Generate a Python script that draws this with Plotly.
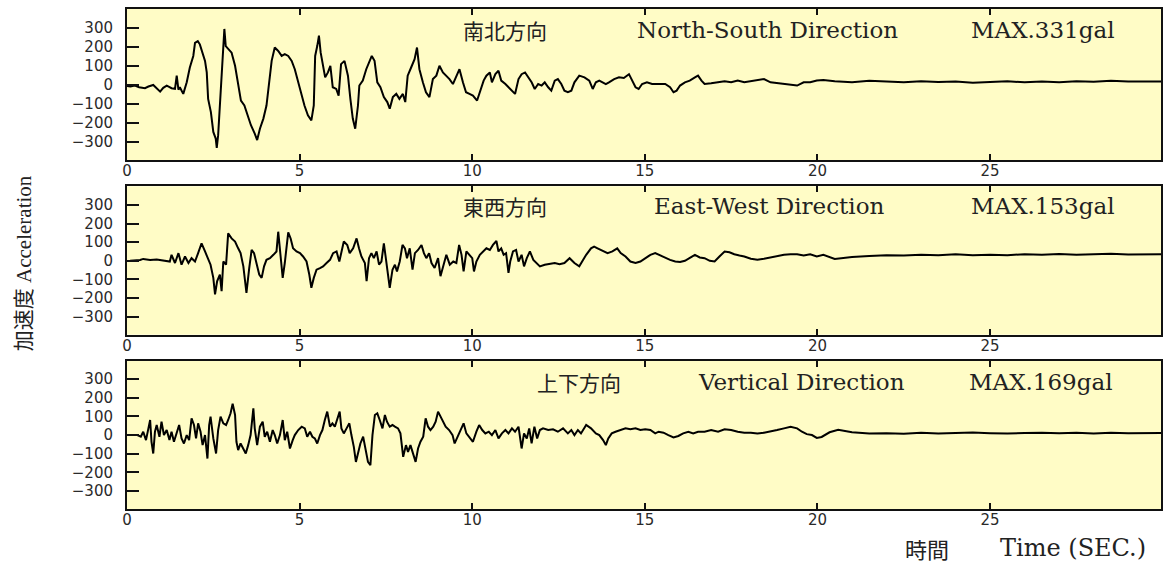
import plotly.graph_objects as go

# ---------------- data (time in s, acceleration in gal) ----------------
ns_samples = [
    (0.00, -5), (0.10, -8), (0.23, -3), (0.35, -12), (0.52, -17), (0.62, -8), (0.76, 0), (0.86, -15),
    (0.96, -35), (1.05, -15), (1.15, -3), (1.22, -10), (1.29, -17), (1.39, -20), (1.44, 49), (1.49, -25),
    (1.53, -12), (1.63, -47), (1.73, 14), (1.82, 92), (1.92, 153), (1.97, 222), (2.05, 231), (2.11, 214),
    (2.18, 170), (2.26, 127), (2.31, 66), (2.35, -73), (2.43, -143), (2.50, -247), (2.57, -282), (2.60, -331),
    (2.64, -264), (2.69, -108), (2.74, 66), (2.79, 222), (2.82, 295), (2.86, 205), (2.93, 188), (3.03, 170),
    (3.13, 101), (3.22, 14), (3.30, -82), (3.40, -108), (3.49, -160), (3.59, -212), (3.70, -256), (3.77, -290),
    (3.85, -230), (3.95, -177), (4.04, -108), (4.11, -3), (4.19, 127), (4.28, 197), (4.38, 179), (4.48, 153),
    (4.57, 162), (4.67, 153), (4.77, 127), (4.86, 83), (4.96, 14), (5.05, -47), (5.14, -108), (5.24, -160),
    (5.34, -186), (5.41, -108), (5.45, 153), (5.51, 205), (5.56, 260), (5.61, 170), (5.67, 118), (5.74, 40),
    (5.82, 66), (5.89, 101), (5.96, -12), (6.06, -21), (6.13, -56), (6.20, 110), (6.30, 127), (6.40, 49),
    (6.47, -73), (6.54, -177), (6.61, -230), (6.69, -108), (6.73, -3), (6.83, 23), (6.93, 83), (7.02, 127),
    (7.09, 153), (7.17, 127), (7.25, 14), (7.34, -12), (7.44, -64), (7.54, -90), (7.61, -125), (7.70, -64),
    (7.80, -47), (7.89, -73), (7.99, -47), (8.06, -90), (8.13, 49), (8.23, 92), (8.33, 136), (8.40, 197),
    (8.47, 83), (8.57, 14), (8.66, -38), (8.76, -64), (8.86, 31), (8.96, 49), (9.05, 101), (9.15, 66),
    (9.24, 49), (9.34, 31), (9.44, 5), (9.53, 40), (9.63, 83), (9.73, 14), (9.82, -38), (9.92, -47),
    (10.02, -56), (10.14, -82), (10.24, -30), (10.33, 23), (10.41, 49), (10.51, 66), (10.57, 14), (10.67, 57),
    (10.76, 75), (10.84, 23), (10.96, 5), (11.05, -12), (11.15, -30), (11.24, -47), (11.34, 31), (11.43, 57),
    (11.53, 66), (11.62, 40), (11.72, 14), (11.81, -21), (11.91, 5), (12.01, -3), (12.10, 14), (12.20, -12),
    (12.29, -30), (12.39, 23), (12.48, 31), (12.58, 5), (12.67, -30), (12.77, -38), (12.87, -30), (12.96, 14),
    (13.10, 49), (13.25, 40), (13.39, 23), (13.49, -21), (13.58, 14), (13.68, 23), (13.77, 14), (13.87, 5),
    (13.96, 14), (14.11, 31), (14.25, 40), (14.39, 37), (14.54, 57), (14.63, 23), (14.73, -12), (14.82, -21),
    (14.92, 5), (15.06, 14), (15.21, 5), (15.40, 5), (15.59, 5), (15.73, -12), (15.83, -38), (15.92, -30),
    (16.02, -3), (16.16, 14), (16.30, 23), (16.45, 40), (16.54, 49), (16.64, 23), (16.73, 5), (16.92, 9),
    (17.12, 14), (17.31, 19), (17.50, 14), (17.69, 23), (17.88, 14), (18.07, 19), (18.26, 23), (18.45, 31),
    (18.64, 14), (18.83, 9), (19.03, 5), (19.22, 2), (19.41, -3), (19.60, 14), (19.79, 14), (19.98, 23),
    (20.17, 26), (20.5, 20), (21.0, 15), (21.5, 22), (22.0, 18), (22.5, 14), (23.0, 20), (23.5, 16),
    (24.0, 18), (24.5, 12), (25.0, 16), (25.5, 20), (26.0, 14), (26.5, 18), (27.0, 15), (27.5, 20),
    (28.0, 17), (28.5, 22), (29.0, 18), (29.5, 20), (29.95, 18),
]

ew_samples = [
    (0.09, 0), (0.38, 4), (0.47, 10), (0.67, 4), (0.86, 7), (1.05, 0), (1.24, -4), (1.29, 32), (1.39, -12),
    (1.49, 41), (1.58, -21), (1.68, 23), (1.78, -12), (1.87, 14), (1.97, -4), (2.06, 41), (2.16, 94),
    (2.26, 50), (2.35, 14), (2.42, -21), (2.50, -92), (2.55, -180), (2.61, -110), (2.69, -74), (2.74, -163),
    (2.79, -4), (2.87, -21), (2.93, 147), (3.03, 120), (3.13, 103), (3.22, 67), (3.29, 41), (3.37, -30),
    (3.46, -172), (3.54, -39), (3.61, 58), (3.68, 41), (3.75, -12), (3.83, -74), (3.90, -92), (3.97, -30),
    (4.04, 5), (4.14, 14), (4.24, 32), (4.33, 50), (4.38, 156), (4.43, 67), (4.51, -92), (4.57, -12),
    (4.67, 153), (4.74, 120), (4.81, 67), (4.91, 50), (5.01, 41), (5.10, 23), (5.20, -4), (5.28, -74),
    (5.34, -145), (5.41, -92), (5.49, -48), (5.59, -39), (5.68, -30), (5.78, -12), (5.88, 5), (5.97, 41),
    (6.07, 50), (6.15, -4), (6.21, 50), (6.28, 103), (6.38, 85), (6.45, 41), (6.55, 67), (6.65, 120),
    (6.72, 67), (6.79, 23), (6.89, -12), (6.94, -110), (7.01, 14), (7.08, 41), (7.15, 14), (7.23, 50),
    (7.30, -21), (7.37, -4), (7.44, 94), (7.50, 14), (7.56, -92), (7.61, -145), (7.69, -48), (7.76, -21),
    (7.82, -57), (7.90, -4), (7.98, 85), (8.05, 67), (8.11, 14), (8.19, 67), (8.27, -48), (8.34, 41),
    (8.43, 58), (8.53, 85), (8.60, 41), (8.67, 14), (8.75, 41), (8.82, -12), (8.91, -39), (9.01, 14),
    (9.08, -83), (9.16, -21), (9.25, 32), (9.35, -21), (9.45, -4), (9.54, -12), (9.62, 85), (9.69, 32),
    (9.75, -57), (9.83, 50), (9.91, 32), (10.00, 14), (10.05, -57), (10.12, -4), (10.22, 32), (10.32, 50),
    (10.41, 67), (10.51, 58), (10.60, 85), (10.70, 106), (10.76, 50), (10.84, 67), (10.91, 32), (10.98, 41),
    (11.05, -65), (11.10, -4), (11.18, 50), (11.27, 58), (11.34, -4), (11.43, 32), (11.50, -30), (11.58, 14),
    (11.67, 50), (11.77, 5), (11.86, -12), (11.96, -30), (12.10, -21), (12.24, -18), (12.39, -12),
    (12.53, -18), (12.67, -12), (12.82, 14), (12.96, -12), (13.10, -30), (13.20, 5), (13.30, 32), (13.44, 67),
    (13.53, 76), (13.63, 67), (13.77, 53), (13.92, 41), (14.06, 50), (14.20, 67), (14.30, 41), (14.44, 23),
    (14.58, -4), (14.73, -12), (14.87, -4), (15.01, 14), (15.16, 32), (15.30, 41), (15.44, 28), (15.59, 14),
    (15.73, 5), (15.88, -4), (16.02, -7), (16.16, 0), (16.30, 14), (16.45, 32), (16.59, 18), (16.73, 14),
    (16.88, 0), (17.02, -4), (17.16, 23), (17.31, 50), (17.45, 46), (17.59, 35), (17.74, 28), (17.88, 23),
    (18.07, 11), (18.26, 5), (18.45, 11), (18.64, 18), (18.83, 23), (19.03, 32), (19.22, 35), (19.41, 35),
    (19.60, 28), (19.79, 35), (19.98, 23), (20.17, 32), (20.5, 10), (21.0, 20), (21.5, 25), (22.0, 30),
    (22.5, 28), (23.0, 32), (23.5, 30), (24.0, 35), (24.5, 30), (25.0, 33), (25.5, 30), (26.0, 35),
    (26.5, 32), (27.0, 36), (27.5, 33), (28.0, 35), (28.5, 38), (29.0, 34), (29.5, 36), (29.95, 35),
]

ud_samples = [
    (0.30, 0), (0.40, -9), (0.47, 18), (0.55, -27), (0.62, 36), (0.67, 81), (0.71, -36), (0.76, -99),
    (0.81, 18), (0.86, 54), (0.94, -9), (1.00, 72), (1.07, 0), (1.15, 27), (1.23, -27), (1.29, 18),
    (1.36, -36), (1.44, 9), (1.51, 54), (1.58, -18), (1.65, -45), (1.73, 0), (1.80, -27), (1.87, 90),
    (1.94, 54), (2.00, -18), (2.06, 63), (2.13, 18), (2.19, -54), (2.26, 0), (2.33, -126), (2.38, 54),
    (2.42, 99), (2.50, -18), (2.58, -99), (2.64, 27), (2.71, 99), (2.79, 63), (2.87, 54), (2.93, 81),
    (3.00, 117), (3.06, 169), (3.13, 108), (3.17, -36), (3.22, -81), (3.29, -45), (3.37, -72), (3.44, -99),
    (3.51, -54), (3.58, 0), (3.66, 144), (3.70, 36), (3.77, -54), (3.85, 45), (3.93, 72), (3.99, -9),
    (4.06, 18), (4.14, -36), (4.22, 27), (4.28, 0), (4.35, -45), (4.43, 0), (4.51, 81), (4.57, -27),
    (4.64, 18), (4.72, -72), (4.80, -27), (4.86, 0), (4.96, 27), (5.06, 45), (5.15, 36), (5.22, -9),
    (5.30, 18), (5.37, -9), (5.44, -18), (5.51, -45), (5.59, 0), (5.66, 27), (5.73, 81), (5.80, 126),
    (5.88, 45), (5.95, 63), (6.02, 45), (6.09, 90), (6.16, 126), (6.21, 36), (6.28, 9), (6.36, 36),
    (6.44, 63), (6.50, 0), (6.57, -63), (6.63, -144), (6.70, -90), (6.76, -45), (6.84, -9), (6.92, -81),
    (6.98, -144), (7.05, -162), (7.11, 0), (7.18, 108), (7.25, 117), (7.32, 81), (7.40, 36), (7.47, 108),
    (7.53, 72), (7.61, 45), (7.69, 54), (7.76, 45), (7.85, 36), (7.92, 9), (8.00, -117), (8.08, -54),
    (8.14, -90), (8.21, -54), (8.29, -108), (8.36, -144), (8.43, -72), (8.50, -36), (8.58, -9), (8.65, 90),
    (8.72, 45), (8.79, 27), (8.87, 45), (8.94, 72), (9.01, 126), (9.08, 99), (9.16, 63), (9.23, 45),
    (9.33, 27), (9.43, 0), (9.49, -45), (9.59, 0), (9.69, 45), (9.75, 63), (9.83, 9), (9.93, -18),
    (10.02, -36), (10.12, 18), (10.20, 54), (10.29, 27), (10.38, 9), (10.48, 18), (10.57, 0), (10.67, 27),
    (10.76, -18), (10.86, 9), (10.96, 27), (11.05, 9), (11.15, 36), (11.24, 18), (11.34, 45), (11.43, -72),
    (11.50, 9), (11.58, -18), (11.65, 36), (11.72, -45), (11.80, 45), (11.88, -18), (11.96, 27), (12.05, 36),
    (12.20, 27), (12.34, 31), (12.48, 18), (12.63, 36), (12.77, 9), (12.87, 27), (12.96, 0), (13.06, 27),
    (13.15, 9), (13.30, 54), (13.44, 36), (13.58, 9), (13.68, 0), (13.79, -27), (13.87, -54), (13.94, -18),
    (14.04, 9), (14.15, 18), (14.30, 27), (14.44, 36), (14.58, 31), (14.73, 36), (14.87, 27), (15.01, 31),
    (15.16, 27), (15.30, 9), (15.40, 18), (15.54, 13), (15.68, 0), (15.83, -13), (15.97, -5), (16.11, 9),
    (16.26, 18), (16.40, 9), (16.54, 18), (16.73, 18), (16.92, 27), (17.12, 18), (17.31, 31), (17.50, 27),
    (17.69, 18), (17.88, 13), (18.07, 13), (18.26, 9), (18.45, 13), (18.64, 18), (18.83, 27), (19.03, 36),
    (19.22, 45), (19.41, 36), (19.55, 18), (19.69, 5), (19.84, 0), (19.98, -15), (20.12, -10), (20.35, 15),
    (20.6, 28), (21.0, 15), (21.5, 8), (22.0, 10), (22.5, 7), (23.0, 12), (23.5, 9), (24.0, 11),
    (24.5, 14), (25.0, 10), (25.5, 8), (26.0, 11), (26.5, 13), (27.0, 10), (27.5, 12), (28.0, 9),
    (28.5, 12), (29.0, 10), (29.5, 12), (29.95, 11),
]

panel_cjk = ["南北方向", "東西方向", "上下方向"]
panel_dir = ["North-South Direction", "East-West Direction", "Vertical Direction"]
panel_max = ["MAX.331gal", "MAX.153gal", "MAX.169gal"]
x_ticks = [0, 5, 10, 15, 20, 25]
y_ticks = [-300, -200, -100, 0, 100, 200, 300]

# ---------------- layout geometry (pixels) ----------------
W, H = 1170, 563
L, R, T, B = 127, 7, 7, 54
PW, PH = W - L - R, H - T - B
panels_px = [(7, 159), (185, 334), (360, 509)]


def fy(ypx):
    return (H - B - ypx) / PH


def fx(xpx):
    return (xpx - L) / PW


BG = "#FFFCC6"
TICKFONT = dict(family="DejaVu Sans", size=15, color="#2a2a2a")
SERIF = "DejaVu Serif, Liberation Serif, Noto Sans CJK JP"

fig = go.Figure()
series = [ns_samples, ew_samples, ud_samples]
layout = {}
for i, (samples, (ytop, ybot)) in enumerate(zip(series, panels_px)):
    t = [p[0] for p in samples]
    v = [p[1] for p in samples]
    sfx = "" if i == 0 else str(i + 1)
    fig.add_trace(go.Scatter(x=t, y=v, mode="lines", xaxis="x" + sfx, yaxis="y" + sfx,
                             line=dict(color="#000000", width=2), showlegend=False,
                             hoverinfo="skip"))
    layout["xaxis" + sfx] = dict(
        domain=[0, 1], anchor="y" + sfx, range=[0, 29.95], tickvals=x_ticks,
        ticks="inside", ticklen=6, tickwidth=2, tickcolor="#111111",
        showline=True, linecolor="#111111", linewidth=2, mirror="ticks",
        showgrid=False, zeroline=False, tickfont=TICKFONT, ticklabelstandoff=-4,
    )
    layout["yaxis" + sfx] = dict(
        domain=[fy(ybot), fy(ytop)], anchor="x" + sfx, range=[-397, 400], tickvals=y_ticks,
        ticks="inside", ticklen=12, tickwidth=2, tickcolor="#111111",
        showline=True, linecolor="#111111", linewidth=2, mirror=True,
        showgrid=False, zeroline=False, tickfont=TICKFONT, ticklabelstandoff=9,
    )

annotations = []
title_rows = [28, 205, 381]
cjk_x = [506, 506, 580]
dir_x = [769, 771, 803]
max_x = [1045, 1045, 1043]
for i in range(3):
    yy = fy(title_rows[i])
    annotations.append(dict(x=fx(cjk_x[i]), y=yy, xref="paper", yref="paper", text=panel_cjk[i],
                            showarrow=False, xanchor="center", yanchor="middle",
                            font=dict(family="Noto Sans CJK JP", size=21, color="#222222")))
    annotations.append(dict(x=fx(dir_x[i]), y=yy, xref="paper", yref="paper", text=panel_dir[i],
                            showarrow=False, xanchor="center", yanchor="middle",
                            font=dict(family=SERIF, size=23, color="#222222")))
    annotations.append(dict(x=fx(max_x[i]), y=yy, xref="paper", yref="paper", text=panel_max[i],
                            showarrow=False, xanchor="center", yanchor="middle",
                            font=dict(family=SERIF, size=23, color="#222222")))

# axis titles
annotations.append(dict(x=fx(24), y=fy(262), xref="paper", yref="paper", text="加速度 Acceleration",
                        showarrow=False, textangle=-90, xanchor="center", yanchor="middle",
                        font=dict(family="Liberation Serif, Noto Sans CJK JP", size=21, color="#222222")))
annotations.append(dict(x=fx(929), y=fy(548), xref="paper", yref="paper", text="時間",
                        showarrow=False, xanchor="center", yanchor="middle",
                        font=dict(family="Noto Sans CJK JP", size=22, color="#222222")))
annotations.append(dict(x=fx(1075), y=fy(548), xref="paper", yref="paper", text="Time (SEC.)",
                        showarrow=False, xanchor="center", yanchor="middle",
                        font=dict(family=SERIF, size=24, color="#222222")))

fig.update_layout(
    width=W, height=H, margin=dict(l=L, r=R, t=T, b=B, pad=0),
    paper_bgcolor="#FFFFFF", plot_bgcolor=BG,
    annotations=annotations, **layout,
)

fig.write_html("out.html", config={"displayModeBar": False},
               post_script="document.body.style.margin='0px';")
